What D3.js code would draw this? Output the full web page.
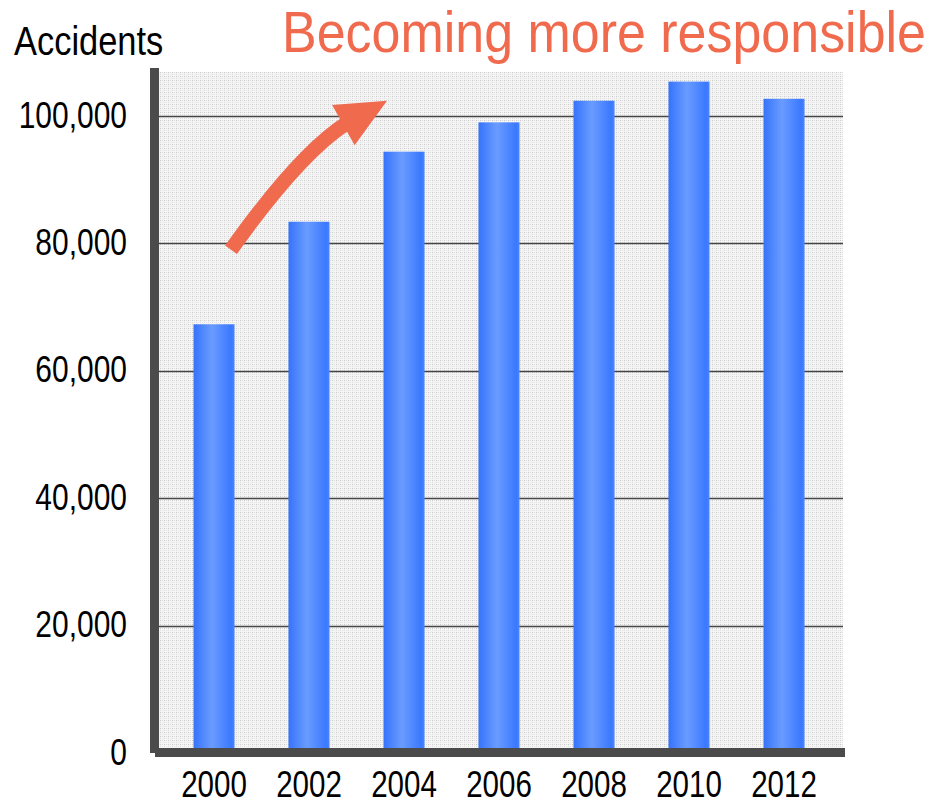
<!DOCTYPE html>
<html>
<head>
<meta charset="utf-8">
<script src="https://cdn.jsdelivr.net/npm/d3@7"></script>
<style>
  html, body { margin: 0; padding: 0; background: #ffffff; }
  svg { display: block; }
  text { font-family: "Liberation Sans", Arial, sans-serif; }
</style>
</head>
<body>
<svg id="chart" width="933" height="801"></svg>
<script>
// ---- data ----
const years = ["2000", "2002", "2004", "2006", "2008", "2010", "2012"];
const accidents = [67300, 83400, 94400, 99000, 102400, 105400, 102700];
const yTicks = [0, 20000, 40000, 60000, 80000, 100000];
const yAxisTitle = "Accidents";
const headline = "Becoming more responsible";

// ---- layout ----
const plot = { left: 159, right: 843, top: 72, bottom: 748 };
const NARROW = 0.81; // emulate a condensed face

const svg = d3.select("#chart");
const defs = svg.append("defs");

function condense(sel, factor) {
  sel.each(function () {
    const w = this.getComputedTextLength();
    d3.select(this).attr("textLength", w * factor).attr("lengthAdjust", "spacingAndGlyphs");
  });
}

// dotted texture background
const pat = defs.append("pattern").attr("id", "dots")
  .attr("patternUnits", "userSpaceOnUse").attr("width", 4).attr("height", 4);
pat.append("rect").attr("width", 4).attr("height", 4).attr("fill", "#f5f5f5");
pat.append("rect").attr("x", 0).attr("y", 0).attr("width", 1).attr("height", 1).attr("fill", "#c9c9c9");
pat.append("rect").attr("x", 2).attr("y", 0).attr("width", 1).attr("height", 1).attr("fill", "#dcdcdc");
pat.append("rect").attr("x", 0).attr("y", 2).attr("width", 1).attr("height", 1).attr("fill", "#dcdcdc");
pat.append("rect").attr("x", 2).attr("y", 2).attr("width", 1).attr("height", 1).attr("fill", "#e6e6e6");

// bar gradient
const grad = defs.append("linearGradient").attr("id", "barGrad")
  .attr("x1", "0%").attr("x2", "100%").attr("y1", "0%").attr("y2", "0%");
grad.append("stop").attr("offset", "0%").attr("stop-color", "#3573fb");
grad.append("stop").attr("offset", "45%").attr("stop-color", "#6a9cff");
grad.append("stop").attr("offset", "92%").attr("stop-color", "#3a78ff");
grad.append("stop").attr("offset", "100%").attr("stop-color", "#4a86ff");

// scales
const x = d3.scaleBand().domain(years).range([166.5, 831.5])
  .paddingInner(0.568).paddingOuter(0.284);
const y = d3.scaleLinear().domain([0, 100000]).range([753, 116]);

// plot background
svg.append("rect")
  .attr("x", plot.left).attr("y", plot.top)
  .attr("width", plot.right - plot.left).attr("height", plot.bottom - plot.top)
  .attr("fill", "url(#dots)");

// gridlines
svg.append("g").selectAll("line")
  .data(yTicks.filter(d => d > 0))
  .join("line")
  .attr("x1", plot.left).attr("x2", plot.right)
  .attr("y1", d => Math.round(y(d)) + 0.5).attr("y2", d => Math.round(y(d)) + 0.5)
  .attr("stroke", "#454545").attr("stroke-width", 1.5);

// bars
svg.append("g").selectAll("rect")
  .data(years.map((yr, i) => ({ yr, v: accidents[i] })))
  .join("rect")
  .attr("x", d => x(d.yr))
  .attr("width", x.bandwidth())
  .attr("y", d => y(d.v))
  .attr("height", d => plot.bottom - y(d.v))
  .attr("fill", "url(#barGrad)");

// axis bars (thick dark frame)
svg.append("rect").attr("x", 150).attr("y", 68).attr("width", 9).attr("height", 685).attr("fill", "#4b4b4b");
svg.append("rect").attr("x", 155).attr("y", plot.bottom).attr("width", 690).attr("height", 9).attr("fill", "#4b4b4b");

// y axis labels
const yAxis = d3.axisLeft(y).tickValues(yTicks).tickSize(0).tickPadding(0)
  .tickFormat(d3.format(","));
const gy = svg.append("g").attr("transform", "translate(127,0)").call(yAxis);
gy.select(".domain").remove();
gy.attr("font-family", null).attr("font-size", null);
gy.selectAll("text")
  .attr("font-size", 37).attr("fill", "#000")
  .attr("dy", "0.3em");
condense(gy.selectAll("text"), NARROW);

// x axis labels
const xAxis = d3.axisBottom(x).tickSize(0).tickPadding(0);
const gx = svg.append("g").attr("transform", "translate(0,797)").call(xAxis);
gx.select(".domain").remove();
gx.attr("font-family", null).attr("font-size", null);
gx.selectAll("text")
  .attr("font-size", 36).attr("fill", "#000")
  .attr("dy", 0).attr("y", 0);
condense(gx.selectAll("text"), 0.82);

// axis title
const at = svg.append("text").attr("x", 14).attr("y", 55)
  .attr("font-size", 41).attr("fill", "#000").text(yAxisTitle);
condense(at, 0.84);

// headline
svg.append("text").attr("x", 282).attr("y", 52)
  .attr("font-size", 58).attr("fill", "#f06a4e")
  .attr("textLength", 644).attr("lengthAdjust", "spacingAndGlyphs")
  .text(headline);

// annotation arrow, anchored to the first bars
const cx0 = x(years[0]) + x.bandwidth() / 2;
const tail = [cx0 + 17, y(79000)];
const ctrl = [cx0 + 85, y(94000)];
const head = [cx0 + 132, y(98800)];
const tip = [cx0 + 173, y(102400)];
svg.append("path")
  .attr("d", `M${tail[0]},${tail[1]} Q${ctrl[0]},${ctrl[1]} ${head[0]},${head[1]}`)
  .attr("fill", "none").attr("stroke", "#f06a4e").attr("stroke-width", 14.5);
const dx = tip[0] - head[0], dy = tip[1] - head[1];
const len = Math.hypot(dx, dy);
const nx = -dy / len, ny = dx / len;
const hw = 23;
const back = [head[0] - dx / len * 3, head[1] - dy / len * 3];
svg.append("path")
  .attr("d", `M${tip[0]},${tip[1]} L${back[0] + nx * hw},${back[1] + ny * hw} L${back[0] - nx * hw},${back[1] - ny * hw} Z`)
  .attr("fill", "#f06a4e");
</script>
</body>
</html>
